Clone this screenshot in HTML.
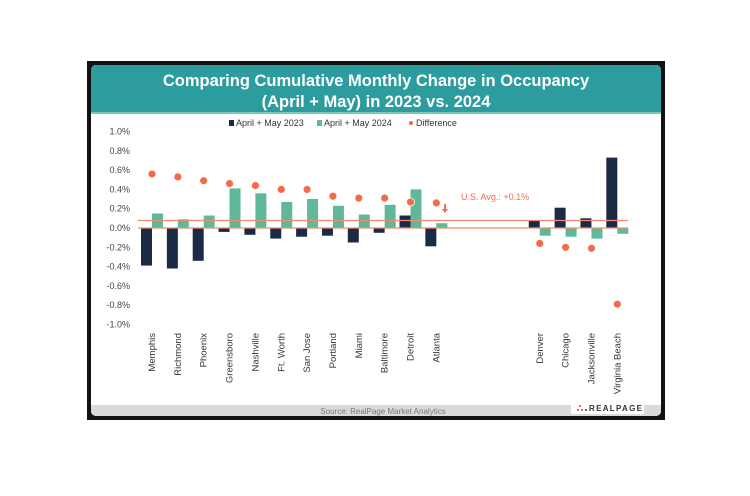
<!DOCTYPE html>
<html><head><meta charset="utf-8"><style>
body{margin:0;background:#fff;}
svg{display:block;font-family:"Liberation Sans",sans-serif;}
</style></head><body>
<svg width="750" height="496" viewBox="0 0 750 496">
<rect x="0" y="0" width="750" height="496" fill="#fff"/>
<rect x="87" y="61" width="578" height="359" fill="#111"/>
<rect x="91" y="65" width="570" height="351" rx="5" fill="#fff"/>
<path d="M91 112 V70 a5 5 0 0 1 5 -5 H656 a5 5 0 0 1 5 5 V112 Z" fill="#2c9c9f"/>
<rect x="91" y="112" width="570" height="2" fill="#7fc9b0"/>
<text x="376" y="86" text-anchor="middle" font-size="16.5" font-weight="bold" fill="#fff">Comparing Cumulative Monthly Change in Occupancy</text>
<text x="376" y="107" text-anchor="middle" font-size="16.5" font-weight="bold" fill="#fff">(April + May) in 2023 vs. 2024</text>
<path d="M91 405 H661 V411 a5 5 0 0 1 -5 5 H96 a5 5 0 0 1 -5 -5 Z" fill="#d9dadc"/>
<text x="383" y="414" text-anchor="middle" font-size="8" fill="#777">Source: RealPage Market Analytics</text>
<rect x="571" y="400" width="73" height="14" fill="#fff"/>
<text x="589" y="411" font-size="8" font-weight="bold" letter-spacing="1.3" fill="#333">REALPAGE</text>
<circle cx="580" cy="406" r="1" fill="#e8402d"/><circle cx="578" cy="410" r="1" fill="#e8402d"/><circle cx="582" cy="410" r="1" fill="#e8402d"/><circle cx="586" cy="410" r="1" fill="#333"/>
<g font-size="9" fill="#333">
<rect x="229" y="120" width="5" height="6" fill="#1c2b45"/><text x="236" y="126">April + May 2023</text>
<rect x="317" y="120" width="5" height="6" fill="#5fb89a"/><text x="324" y="126">April + May 2024</text>
<circle cx="411" cy="123" r="2" fill="#f26b4a"/><text x="416" y="126">Difference</text>
</g>
<g font-size="9" fill="#444" text-anchor="end">
<text x="130" y="134.5">1.0%</text>
<text x="130" y="153.8">0.8%</text>
<text x="130" y="173.1">0.6%</text>
<text x="130" y="192.4">0.4%</text>
<text x="130" y="211.7">0.2%</text>
<text x="130" y="231">0.0%</text>
<text x="130" y="250.3">-0.2%</text>
<text x="130" y="269.6">-0.4%</text>
<text x="130" y="288.9">-0.6%</text>
<text x="130" y="308.2">-0.8%</text>
<text x="130" y="327.5">-1.0%</text>
</g>
<g fill="#1c2b45">
<rect x="141" y="228" width="11" height="37.6"/>
<rect x="166.85" y="228" width="11" height="40.5"/>
<rect x="192.7" y="228" width="11" height="32.8"/>
<rect x="218.55" y="228" width="11" height="3.9"/>
<rect x="244.4" y="228" width="11" height="6.8"/>
<rect x="270.25" y="228" width="11" height="10.6"/>
<rect x="296.1" y="228" width="11" height="8.7"/>
<rect x="321.95" y="228" width="11" height="7.7"/>
<rect x="347.8" y="228" width="11" height="14.5"/>
<rect x="373.65" y="228" width="11" height="4.8"/>
<rect x="399.5" y="215.5" width="11" height="12.5"/>
<rect x="425.35" y="228" width="11" height="18.3"/>
<rect x="528.75" y="220.3" width="11" height="7.7"/>
<rect x="554.6" y="207.7" width="11" height="20.3"/>
<rect x="580.45" y="218.3" width="11" height="9.7"/>
<rect x="606.3" y="157.6" width="11" height="70.4"/>
</g>
<g fill="#5fb89a">
<rect x="152" y="213.5" width="11" height="14.5"/>
<rect x="177.85" y="219.3" width="11" height="8.7"/>
<rect x="203.7" y="215.5" width="11" height="12.5"/>
<rect x="229.55" y="188.4" width="11" height="39.6"/>
<rect x="255.4" y="193.3" width="11" height="34.7"/>
<rect x="281.25" y="201.9" width="11" height="26.1"/>
<rect x="307.1" y="199" width="11" height="29"/>
<rect x="332.95" y="205.8" width="11" height="22.2"/>
<rect x="358.8" y="214.5" width="11" height="13.5"/>
<rect x="384.65" y="204.8" width="11" height="23.2"/>
<rect x="410.5" y="189.4" width="11" height="38.6"/>
<rect x="436.35" y="223.2" width="11" height="4.8"/>
<rect x="539.75" y="228" width="11" height="7.7"/>
<rect x="565.6" y="228" width="11" height="8.7"/>
<rect x="591.45" y="228" width="11" height="10.6"/>
<rect x="617.3" y="228" width="11" height="5.8"/>
</g>
<line x1="138" y1="228" x2="628" y2="228" stroke="#f28a72" stroke-width="1.3"/>
<line x1="138" y1="220.5" x2="628" y2="220.5" stroke="#f28a72" stroke-width="1.3"/>
<g fill="#f26b4a" stroke="#fff" stroke-width="0.8">
<circle cx="152" cy="174" r="4"/>
<circle cx="177.85" cy="176.9" r="4"/>
<circle cx="203.7" cy="180.7" r="4"/>
<circle cx="229.55" cy="183.6" r="4"/>
<circle cx="255.4" cy="185.5" r="4"/>
<circle cx="281.25" cy="189.4" r="4"/>
<circle cx="307.1" cy="189.4" r="4"/>
<circle cx="332.95" cy="196.2" r="4"/>
<circle cx="358.8" cy="198.1" r="4"/>
<circle cx="384.65" cy="198.1" r="4"/>
<circle cx="410.5" cy="202" r="4"/>
<circle cx="436.35" cy="202.9" r="4"/>
<circle cx="539.75" cy="243.4" r="4"/>
<circle cx="565.6" cy="247.3" r="4"/>
<circle cx="591.45" cy="248.3" r="4"/>
<circle cx="617.3" cy="304.2" r="4"/>
</g>
<g font-size="9.5" fill="#333" text-anchor="end">
<text transform="translate(155,333) rotate(-90)">Memphis</text>
<text transform="translate(180.85,333) rotate(-90)">Richmond</text>
<text transform="translate(206.7,333) rotate(-90)">Phoenix</text>
<text transform="translate(232.55,333) rotate(-90)">Greensboro</text>
<text transform="translate(258.4,333) rotate(-90)">Nashville</text>
<text transform="translate(284.25,333) rotate(-90)">Ft. Worth</text>
<text transform="translate(310.1,333) rotate(-90)">San Jose</text>
<text transform="translate(335.95,333) rotate(-90)">Portland</text>
<text transform="translate(361.8,333) rotate(-90)">Miami</text>
<text transform="translate(387.65,333) rotate(-90)">Baltimore</text>
<text transform="translate(413.5,333) rotate(-90)">Detroit</text>
<text transform="translate(439.35,333) rotate(-90)">Atlanta</text>
<text transform="translate(542.75,333) rotate(-90)">Denver</text>
<text transform="translate(568.6,333) rotate(-90)">Chicago</text>
<text transform="translate(594.45,333) rotate(-90)">Jacksonville</text>
<text transform="translate(620.3,333) rotate(-90)">Virginia Beach</text>
</g>
<text x="461" y="200" font-size="9" fill="#f26b4a">U.S. Avg.: +0.1%</text>
<path d="M444 204 V209 H442 L445 213 L448 209 H446 V204 Z" fill="#f26b4a"/>
</svg>
</body></html>
